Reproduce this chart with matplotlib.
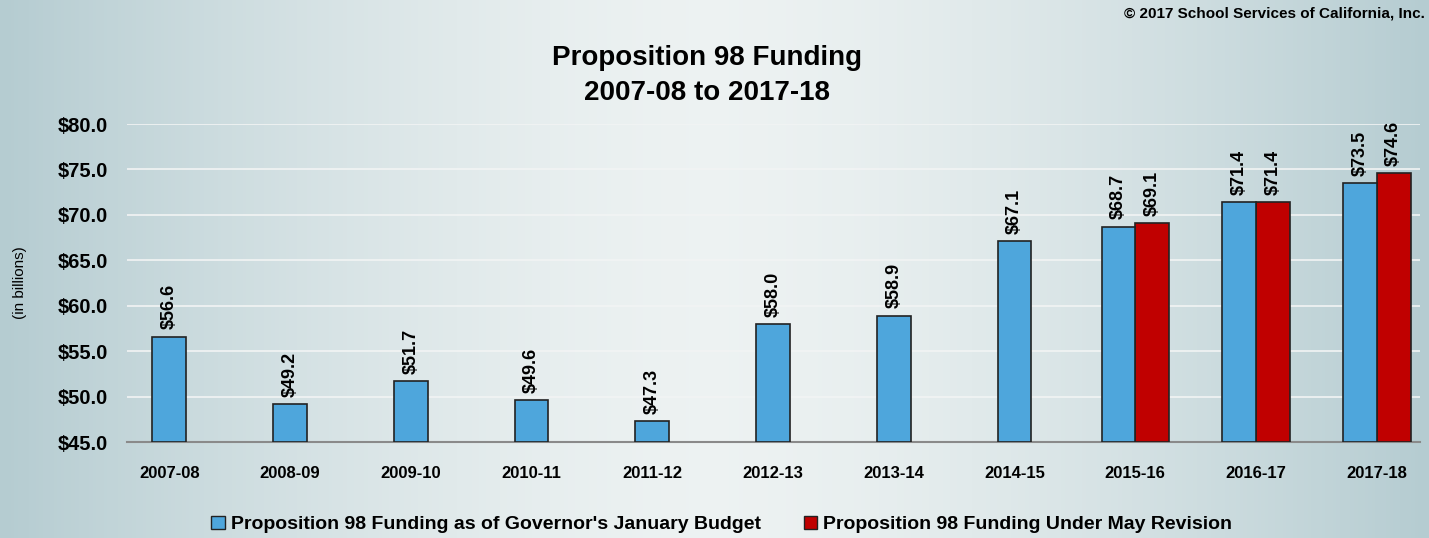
import numpy as np
import matplotlib.pyplot as plt
from matplotlib.patches import Patch

years = ['2007-08', '2008-09', '2009-10', '2010-11', '2011-12', '2012-13',
         '2013-14', '2014-15', '2015-16', '2016-17', '2017-18']
january = [56.6, 49.2, 51.7, 49.6, 47.3, 58.0, 58.9, 67.1, 68.7, 71.4, 73.5]
may = [None, None, None, None, None, None, None, None, 69.1, 71.4, 74.6]

blue = '#4ea6dc'
red = '#c00000'

plt.rcParams['font.family'] = ['Liberation Sans', 'DejaVu Sans']

fig = plt.figure(figsize=(14.29, 5.38), dpi=100)

# gradient background
bg = fig.add_axes([0, 0, 1, 1], zorder=-10)
xs = np.linspace(0, 1, 400)
prof = 1 - (np.abs(xs - 0.5) * 2) ** 1.5
c_edge = np.array([0.71, 0.80, 0.82])
c_mid = np.array([0.93, 0.95, 0.95])
img = c_edge[None, :] + (c_mid - c_edge)[None, :] * prof[:, None]
bg.imshow(img[None, :, :], aspect='auto', extent=[0, 1, 0, 1])
bg.axis('off')

ax = fig.add_axes([0.0889, 0.1784, 0.905, 0.591])
ax.patch.set_alpha(0)

x = np.arange(len(years))
w = 0.28
for i in range(len(years)):
    if may[i] is None:
        xb = x[i]
    else:
        xb = x[i] - w / 2
        ax.bar(x[i] + w / 2, may[i] - 45, bottom=45, width=w, color=red,
               edgecolor='#222222', linewidth=1.2, zorder=3)
        ax.text(x[i] + w / 2, may[i] + 0.8, f'${may[i]:.1f}', rotation=90,
                ha='center', va='bottom', fontsize=13, fontweight='bold')
    ax.bar(xb, january[i] - 45, bottom=45, width=w, color=blue,
           edgecolor='#222222', linewidth=1.2, zorder=3)
    ax.text(xb, january[i] + 0.8, f'${january[i]:.1f}', rotation=90,
            ha='center', va='bottom', fontsize=13, fontweight='bold')

ax.set_ylim(45, 80)
ax.set_xlim(-0.35, 10.36)
ax.set_yticks(np.arange(45, 81, 5))
ax.set_yticklabels([f'${v:.1f}' for v in np.arange(45, 81, 5)],
                   fontsize=14.5, fontweight='bold')
ax.set_xticks(x)
ax.set_xticklabels(years, fontsize=12, fontweight='bold')
ax.tick_params(axis='y', length=0, pad=14)
ax.tick_params(axis='x', length=0, pad=17)
ax.grid(axis='y', color='#f2f4f4', linewidth=1.2, zorder=0)
for s in ['top', 'right', 'left']:
    ax.spines[s].set_visible(False)
ax.spines['bottom'].set_color('#8a8a8a')
ax.spines['bottom'].set_linewidth(1.5)
ax.set_ylabel('(in billions)', fontsize=11, labelpad=22)

fig.text(0.495, 0.86, 'Proposition 98 Funding\n2007-08 to 2017-18',
         ha='center', va='center', fontsize=20, fontweight='bold', linespacing=1.45)
fig.text(0.997, 0.975, '\u00a9 2017 School Services of California, Inc.',
         ha='right', va='center', fontsize=11, fontweight='bold')

handles = [Patch(facecolor=blue, edgecolor='#222222'),
           Patch(facecolor=red, edgecolor='#222222')]
fig.legend(handles, ["Proposition 98 Funding as of Governor's January Budget",
                     'Proposition 98 Funding Under May Revision'],
           loc='center', bbox_to_anchor=(0.505, 0.025), ncol=2, frameon=False,
           prop={'size': 14, 'weight': 'bold'}, handlelength=0.7, handleheight=0.7,
           handletextpad=0.3, columnspacing=2.2)

fig.savefig('out.png', dpi=100)
